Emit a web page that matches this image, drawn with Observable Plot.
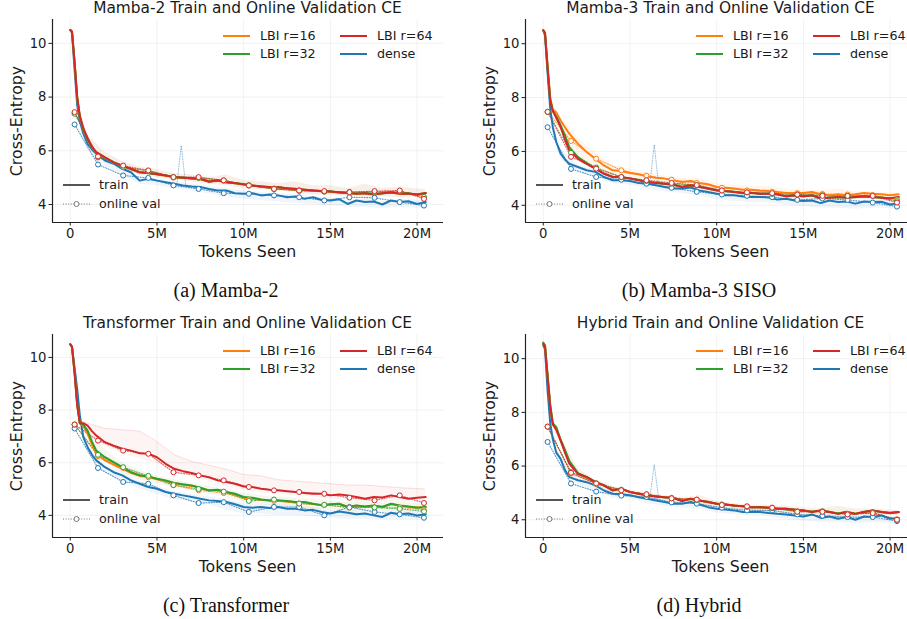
<!DOCTYPE html>
<html><head><meta charset="utf-8">
<script src="https://cdn.jsdelivr.net/npm/d3@7"></script>
<script src="https://cdn.jsdelivr.net/npm/@observablehq/plot@0.6"></script>
<style>
html,body{margin:0;padding:0;background:#fff;overflow:hidden}
#root{position:relative;width:907px;height:619px;overflow:hidden;background:#fff}
#root svg{position:absolute;overflow:visible}
.t{position:absolute;transform:translate(-50%,-50%);white-space:nowrap;font-family:"DejaVu Sans",sans-serif;color:#1a1a1a;line-height:1}
.title{font-size:15.4px}
.xl{font-size:15.8px}
.yl{font-size:15.8px;transform:translate(-50%,-50%) rotate(-90deg)}
.cap{font-family:"Liberation Serif","Times New Roman",serif;font-size:20px;color:#111}
</style></head><body><div id="root"></div>
<script>
// ---------- data ----------
const SERIES = ["dense", "LBI r=16", "LBI r=32", "LBI r=64"];
const COLORS = ["#1f77b4", "#ff7f0e", "#2ca02c", "#d62728"];
const X_TICKS = [0, 5, 10, 15, 20];
const X_TICK_LABELS = ["0", "5M", "10M", "15M", "20M"];
const Y_TICKS = [4, 6, 8, 10];
const X_DOMAIN = [-1.025, 21.525];

const TRAIN_X = [0,0.1,0.25,0.4,0.55,0.75,1,1.25,1.5,2,2.5,3,3.5,4,4.5,5,5.5,6,6.5,7,7.5,8,8.5,9,9.5,10,10.5,11,11.5,12,12.5,13,13.5,14,14.5,15,15.5,16,16.5,17,17.5,18,18.5,19,19.5,20,20.5];
const VAL_X = [0.25,1.6,3.05,4.5,5.95,7.4,8.85,10.3,11.75,13.2,14.65,16.1,17.55,19.0,20.4];
const SPIKE_X = [6.15, 6.4, 6.65];
const BAND_X = [0.6,1,2,3,4,5,6,7,8,9,10,11,12,13,14,15,16,17,18,19,20.5];

// Mamba-2
const a_dense = [10.5,10.4,9.0,7.7,7.1,6.65,6.26,6.05,5.89,5.64,5.52,5.33,5.2,4.89,4.96,4.89,4.83,4.77,4.71,4.67,4.65,4.58,4.52,4.52,4.42,4.4,4.42,4.34,4.37,4.34,4.27,4.3,4.21,4.27,4.17,4.15,4.2,4.02,4.15,4.09,4.11,4.0,4.15,4.09,4.12,4.02,4.09];
const a_r16 = [10.5,10.4,9.25,7.95,7.25,6.8,6.4,6.12,5.93,5.74,5.56,5.44,5.31,5.19,5.18,5.12,5.07,5.03,4.99,4.97,4.94,4.86,4.88,4.82,4.79,4.74,4.72,4.66,4.64,4.63,4.6,4.57,4.56,4.51,4.49,4.47,4.45,4.44,4.41,4.41,4.38,4.43,4.44,4.41,4.4,4.38,4.42];
const a_r32 = [10.5,10.42,9.28,7.98,7.28,6.82,6.42,6.13,5.94,5.75,5.58,5.44,5.32,5.21,5.16,5.13,5.09,5.01,5.01,4.97,4.95,4.86,4.89,4.84,4.79,4.76,4.7,4.68,4.64,4.65,4.6,4.59,4.54,4.53,4.49,4.49,4.45,4.42,4.41,4.43,4.38,4.41,4.45,4.41,4.42,4.36,4.42];
const a_r64 = [10.5,10.45,9.3,8.0,7.3,6.85,6.45,6.15,5.95,5.76,5.57,5.45,5.33,5.2,5.17,5.14,5.08,5.02,5.0,4.98,4.96,4.85,4.9,4.83,4.8,4.75,4.71,4.67,4.65,4.64,4.61,4.58,4.55,4.52,4.5,4.48,4.46,4.43,4.4,4.42,4.37,4.42,4.46,4.4,4.41,4.37,4.43];
const a_val_dense = [6.98,5.49,5.08,4.99,4.71,4.58,4.42,4.4,4.34,4.27,4.15,4.27,4.25,4.09,3.96];
const a_val_r16 = [7.4,5.75,5.42,5.25,5.0,4.98,4.88,4.7,4.6,4.5,4.48,4.45,4.48,4.5,4.25];
const a_val_r32 = [7.38,5.77,5.4,5.25,5.03,5.0,4.9,4.72,4.57,4.53,4.48,4.47,4.46,4.5,4.28];
const a_val_r64 = [7.44,5.79,5.45,5.27,5.02,5.02,4.9,4.71,4.58,4.52,4.5,4.46,4.5,4.52,4.21];
const a_spike = [4.75, 6.2, 4.75];
const a_band_lbi_hi = [7.4,6.6,5.95,5.6,5.4,5.3,5.15,5.1,5.0,5.1,4.9,4.85,4.78,4.85,4.7,4.7,4.6,4.75,4.6,4.65,4.55];
const a_band_lbi_lo = [7.1,6.3,5.6,5.35,5.1,5.0,4.9,4.85,4.75,4.7,4.6,4.55,4.5,4.45,4.35,4.35,4.3,4.25,4.3,4.25,4.3];
const a_band_dense_hi = [7.0,6.3,5.7,5.4,5.0,4.95,4.85,4.75,4.65,4.6,4.5,4.45,4.4,4.35,4.3,4.25,4.15,4.2,4.1,4.2,4.15];
const a_band_dense_lo = [6.8,6.0,5.45,5.1,4.75,4.7,4.6,4.5,4.4,4.3,4.2,4.15,4.1,4.05,4.0,3.95,3.9,3.9,3.85,3.9,3.85];

// Mamba-3 SISO
const b_dense = [10.5,10.3,8.9,7.6,6.9,6.35,5.92,5.7,5.54,5.42,5.3,5.24,5.05,4.93,4.93,4.9,4.83,4.8,4.74,4.68,4.62,4.62,4.66,4.55,4.49,4.43,4.37,4.37,4.33,4.31,4.31,4.29,4.21,4.24,4.18,4.16,4.18,4.08,4.18,4.12,4.14,4.06,4.14,4.12,4.13,4.03,4.08];
const b_r16 = [10.5,10.4,9.2,8.0,7.55,7.45,7.15,6.9,6.66,6.29,5.98,5.73,5.48,5.3,5.27,5.2,5.15,5.07,5.02,4.99,4.93,4.86,4.9,4.83,4.78,4.68,4.65,4.62,4.58,4.58,4.55,4.53,4.49,4.46,4.46,4.46,4.49,4.41,4.37,4.41,4.37,4.41,4.46,4.43,4.41,4.37,4.41];
const b_r32 = [10.5,10.4,9.1,7.9,7.5,7.3,6.97,6.6,6.16,5.79,5.56,5.37,5.18,5.06,5.04,5.0,4.94,4.85,4.84,4.79,4.77,4.69,4.73,4.69,4.61,4.56,4.52,4.5,4.45,4.47,4.42,4.44,4.4,4.34,4.36,4.34,4.36,4.26,4.29,4.3,4.29,4.3,4.34,4.3,4.29,4.26,4.3];
const b_r64 = [10.5,10.4,9.1,7.9,7.5,7.25,6.9,6.45,6.04,5.73,5.54,5.36,5.17,5.05,5.05,4.99,4.93,4.86,4.83,4.8,4.76,4.68,4.74,4.68,4.62,4.55,4.53,4.49,4.46,4.46,4.43,4.43,4.41,4.33,4.37,4.33,4.37,4.25,4.28,4.31,4.28,4.31,4.33,4.31,4.28,4.25,4.31];
const b_val_dense = [6.9,5.35,5.05,4.95,4.8,4.65,4.5,4.4,4.35,4.3,4.2,4.25,4.2,4.1,3.95];
const b_val_r16 = [7.47,6.39,5.73,5.3,5.1,4.95,4.83,4.65,4.55,4.5,4.45,4.42,4.4,4.38,4.2];
const b_val_r32 = [7.47,5.95,5.4,5.05,4.9,4.8,4.75,4.55,4.48,4.42,4.4,4.38,4.35,4.35,4.15];
const b_val_r64 = [7.47,5.8,5.36,5.05,4.93,4.83,4.75,4.55,4.48,4.45,4.4,4.35,4.35,4.35,4.1];
const b_spike = [4.8, 6.25, 4.75];
const b_band_lbi_hi = [7.6,7.3,6.5,5.95,5.5,5.35,5.2,5.1,5.0,5.0,4.8,4.75,4.7,4.7,4.6,4.55,4.55,4.6,4.5,4.5,4.45];
const b_band_lbi_lo = [7.3,6.8,5.7,5.3,5.0,4.9,4.8,4.7,4.6,4.6,4.45,4.4,4.35,4.3,4.2,4.25,4.2,4.2,4.2,4.2,4.2];
const b_band_dense_hi = [7.0,6.1,5.5,5.3,5.0,4.95,4.85,4.75,4.7,4.6,4.5,4.45,4.4,4.35,4.3,4.25,4.15,4.2,4.15,4.2,4.15];
const b_band_dense_lo = [6.7,5.7,5.25,5.05,4.8,4.75,4.6,4.5,4.45,4.35,4.2,4.15,4.1,4.1,4.0,3.95,3.9,3.9,3.85,3.9,3.85];

// Transformer
const c_dense = [10.5,10.4,9.6,8.8,7.8,6.97,6.59,6.3,6.09,5.83,5.64,5.52,5.33,5.2,5.08,5.01,4.89,4.82,4.76,4.7,4.63,4.57,4.55,4.51,4.42,4.32,4.29,4.32,4.28,4.32,4.25,4.25,4.19,4.21,4.13,4.07,4.15,4.1,4.04,4.07,4.0,3.94,4.1,4.04,4.07,4.0,4.04];
const c_r16 = [10.5,10.4,9.4,8.2,7.5,7.4,7.1,6.7,6.34,6.09,5.93,5.77,5.62,5.5,5.46,5.38,5.31,5.22,5.16,5.12,5.04,4.94,4.96,4.88,4.8,4.68,4.64,4.59,4.56,4.57,4.53,4.5,4.5,4.43,4.39,4.41,4.43,4.33,4.37,4.33,4.36,4.33,4.42,4.37,4.33,4.3,4.31];
const c_r32 = [10.5,10.4,9.4,8.2,7.5,7.45,7.22,6.8,6.46,6.21,6.02,5.83,5.64,5.52,5.48,5.39,5.33,5.23,5.18,5.14,5.05,4.95,4.97,4.89,4.82,4.7,4.67,4.6,4.57,4.57,4.55,4.51,4.51,4.44,4.38,4.42,4.44,4.32,4.38,4.34,4.38,4.32,4.44,4.38,4.34,4.29,4.32];
const c_r64 = [10.5,10.4,9.4,8.2,7.5,7.5,7.41,7.2,7.03,6.78,6.65,6.53,6.46,6.36,6.34,6.21,5.96,5.77,5.68,5.61,5.52,5.45,5.33,5.27,5.2,5.1,5.08,5.01,4.97,4.95,4.92,4.89,4.85,4.82,4.82,4.76,4.79,4.76,4.7,4.63,4.7,4.68,4.76,4.7,4.63,4.67,4.7];
const c_val_dense = [7.3,5.8,5.27,5.2,4.76,4.47,4.5,4.13,4.32,4.32,4.0,4.32,4.13,4.04,3.91];
const c_val_r16 = [7.45,6.25,5.8,5.45,5.15,4.95,4.85,4.6,4.55,4.45,4.4,4.3,4.3,4.3,4.2];
const c_val_r32 = [7.45,6.3,5.83,5.5,5.15,5.0,4.9,4.55,4.6,4.45,4.4,4.3,4.3,4.25,4.15];
const c_val_r64 = [7.45,6.84,6.46,6.34,5.64,5.52,5.33,5.08,4.95,4.89,4.82,4.67,4.57,4.76,4.47];
const c_band_r64_hi = [7.6,7.5,7.3,7.25,7.2,6.8,6.3,6.05,5.9,5.75,5.55,5.5,5.35,5.3,5.25,5.2,5.15,5.15,5.1,5.05,5.0];
const c_band_r64_lo = [7.45,7.2,6.6,6.35,6.15,5.95,5.6,5.45,5.3,5.1,4.95,4.85,4.8,4.75,4.7,4.6,4.55,4.5,4.5,4.5,4.5];
const c_band_lbi_hi = [7.6,7.3,6.5,6.0,5.7,5.5,5.35,5.2,5.1,5.0,4.85,4.75,4.7,4.65,4.6,4.55,4.5,4.5,4.45,4.5,4.4];
const c_band_lbi_lo = [7.4,7.0,6.0,5.6,5.35,5.2,5.05,4.95,4.8,4.7,4.5,4.4,4.35,4.3,4.2,4.25,4.15,4.15,4.1,4.15,4.1];
const c_band_dense_hi = [7.5,6.7,5.9,5.6,5.3,5.1,4.9,4.8,4.7,4.6,4.45,4.4,4.4,4.35,4.3,4.2,4.2,4.15,4.05,4.15,4.1];
const c_band_dense_lo = [7.2,6.4,5.6,5.3,5.0,4.8,4.6,4.5,4.4,4.2,4.05,4.05,4.0,4.0,3.95,3.9,3.85,3.85,3.8,3.8,3.8];

// Hybrid
const d_dense = [10.5,10.35,8.8,7.6,7.0,6.5,6.27,5.85,5.59,5.47,5.4,5.28,5.09,4.97,4.95,4.91,4.84,4.78,4.72,4.66,4.6,4.6,4.66,4.57,4.47,4.41,4.38,4.35,4.29,4.29,4.29,4.25,4.22,4.2,4.16,4.12,4.2,4.07,4.12,4.04,4.1,4.0,4.12,4.1,4.16,4.04,4.07];
const d_r16 = [10.55,10.45,9.35,8.25,7.55,7.4,6.97,6.55,6.12,5.72,5.58,5.41,5.27,5.1,5.15,5.04,4.96,4.92,4.86,4.85,4.81,4.71,4.77,4.73,4.65,4.61,4.56,4.54,4.49,4.48,4.46,4.46,4.4,4.42,4.36,4.36,4.3,4.34,4.3,4.23,4.28,4.23,4.28,4.34,4.3,4.24,4.28];
const d_r32 = [10.6,10.5,9.4,8.3,7.6,7.45,6.98,6.6,6.2,5.74,5.6,5.41,5.29,5.1,5.16,5.03,4.98,4.9,4.88,4.83,4.82,4.71,4.78,4.71,4.67,4.6,4.58,4.52,4.51,4.46,4.48,4.44,4.42,4.4,4.38,4.34,4.3,4.35,4.29,4.23,4.3,4.22,4.3,4.35,4.28,4.26,4.29];
const d_r64 = [10.55,10.45,9.3,8.2,7.55,7.35,6.96,6.5,6.09,5.71,5.59,5.4,5.28,5.09,5.16,5.03,4.97,4.91,4.87,4.84,4.82,4.7,4.78,4.72,4.66,4.6,4.57,4.53,4.5,4.47,4.47,4.45,4.41,4.41,4.37,4.35,4.29,4.35,4.29,4.22,4.29,4.22,4.29,4.35,4.29,4.25,4.29];
const d_val_dense = [6.9,5.35,5.05,4.9,4.85,4.65,4.6,4.45,4.35,4.35,4.2,4.15,4.1,4.1,3.95];
const d_val_r16 = [7.47,5.72,5.33,5.1,4.95,4.82,4.75,4.55,4.5,4.45,4.32,4.3,4.22,4.25,4.02];
const d_val_r32 = [7.47,5.78,5.36,5.12,4.93,4.8,4.73,4.57,4.48,4.43,4.3,4.32,4.2,4.27,4.0];
const d_val_r64 = [7.47,5.75,5.35,5.1,4.95,4.8,4.75,4.55,4.5,4.45,4.3,4.3,4.2,4.25,4.0];
const d_spike = [4.85, 6.05, 4.8];
const d_band_lbi_hi = [7.6,7.1,5.9,5.5,5.25,5.1,5.0,4.9,4.8,4.9,4.7,4.6,4.55,4.55,4.5,4.45,4.4,4.5,4.4,4.4,4.35];
const d_band_lbi_lo = [7.4,6.8,5.6,5.3,5.0,4.9,4.8,4.7,4.6,4.55,4.45,4.4,4.35,4.3,4.15,4.2,4.15,4.1,4.1,4.15,4.15];
const d_band_dense_hi = [7.0,6.4,5.55,5.35,5.05,4.95,4.85,4.75,4.65,4.65,4.5,4.45,4.4,4.35,4.3,4.2,4.15,4.15,4.1,4.15,4.1];
const d_band_dense_lo = [6.8,6.1,5.3,5.1,4.8,4.8,4.6,4.5,4.45,4.4,4.25,4.2,4.15,4.1,4.0,3.95,3.9,3.9,3.85,3.9,3.85];

const TITLES = ["Mamba-2 Train and Online Validation CE", "Mamba-3 Train and Online Validation CE", "Transformer Train and Online Validation CE", "Hybrid Train and Online Validation CE"];
const CAPTIONS = ["(a) Mamba-2", "(b) Mamba-3 SISO", "(c) Transformer", "(d) Hybrid"];

// ---------- layout ----------
const W = 453, H = 262, ML = 52, MR = 10, MT = 19, MB = 40;
const FW = W - ML - MR, FH = H - MT - MB;
const BAND_LBI = "#c0602a", BAND_OLIVE = "#7a8a2a";
const PANELS = [
  {left: 0, top: 0, yDomain: [3.33, 10.89], train: [a_dense, a_r16, a_r32, a_r64], val: [a_val_dense, a_val_r16, a_val_r32, a_val_r64], spike: a_spike, capY: 290,
   bands: [{hi: a_band_dense_hi, lo: a_band_dense_lo, c: COLORS[0], o: 0.07}, {hi: a_band_lbi_hi, lo: a_band_lbi_lo, c: BAND_LBI, o: 0.11}]},
  {left: 473, top: 0, yDomain: [3.36, 10.9], train: [b_dense, b_r16, b_r32, b_r64], val: [b_val_dense, b_val_r16, b_val_r32, b_val_r64], spike: b_spike, capY: 290,
   bands: [{hi: b_band_dense_hi, lo: b_band_dense_lo, c: COLORS[0], o: 0.07}, {hi: b_band_lbi_hi, lo: b_band_lbi_lo, c: COLORS[1], o: 0.08}]},
  {left: 0, top: 315, yDomain: [3.16, 10.87], train: [c_dense, c_r16, c_r32, c_r64], val: [c_val_dense, c_val_r16, c_val_r32, c_val_r64], capY: 605,
   bands: [{hi: c_band_dense_hi, lo: c_band_dense_lo, c: COLORS[0], o: 0.07}, {hi: c_band_lbi_hi, lo: c_band_lbi_lo, c: BAND_OLIVE, o: 0.08}, {hi: c_band_r64_hi, lo: c_band_r64_lo, c: COLORS[3], o: 0.05, edge: true}]},
  {left: 473, top: 315, yDomain: [3.34, 10.9], train: [d_dense, d_r16, d_r32, d_r64], val: [d_val_dense, d_val_r16, d_val_r32, d_val_r64], spike: d_spike, capY: 605,
   bands: [{hi: d_band_dense_hi, lo: d_band_dense_lo, c: COLORS[0], o: 0.07}, {hi: d_band_lbi_hi, lo: d_band_lbi_lo, c: BAND_LBI, o: 0.1}]}
];

const root = document.getElementById("root");
function addText(cls, txt, x, y) {
  const d = document.createElement("div");
  d.className = "t " + cls; d.textContent = txt;
  d.style.left = x + "px"; d.style.top = y + "px";
  root.appendChild(d);
}

PANELS.forEach((p, k) => {
  const train = [], val = [];
  SERIES.forEach((s, i) => {
    p.train[i].forEach((v, j) => train.push({x: TRAIN_X[j], y: v, s}));
    p.val[i].forEach((v, j) => val.push({x: VAL_X[j], y: v, s}));
  });
  const marks = [
    Plot.gridX(X_TICKS, {stroke: "#000", strokeOpacity: 0.07, strokeWidth: 0.8}),
    Plot.gridY(Y_TICKS, {stroke: "#000", strokeOpacity: 0.07, strokeWidth: 0.8})
  ];
  (p.bands || []).forEach(b => {
    const rows = BAND_X.map((x, i) => ({x, lo: b.lo[i], hi: b.hi[i]}));
    marks.push(Plot.areaY(rows, {x: "x", y1: "lo", y2: "hi", fill: b.c, fillOpacity: b.o}));
    if (b.edge) marks.push(Plot.line(rows, {x: "x", y: "hi", stroke: b.c, strokeOpacity: 0.25, strokeWidth: 0.7, strokeDasharray: "1,1.5"}));
  });
  if (p.spike) {
    marks.push(Plot.line(SPIKE_X.map((x, i) => ({x, y: p.spike[i]})), {x: "x", y: "y", stroke: COLORS[0], strokeOpacity: 0.45, strokeWidth: 1, strokeDasharray: "1,1.5"}));
  }
  marks.push(
    Plot.line(val, {x: "x", y: "y", z: "s", stroke: "s", strokeWidth: 1.1, strokeOpacity: 0.75, strokeDasharray: "1,1.6"}),
    Plot.line(train, {x: "x", y: "y", z: "s", stroke: "s", strokeWidth: 2}),
    Plot.dot(val, {x: "x", y: "y", stroke: "s", fill: "white", r: 2.5, strokeWidth: 1}),
    Plot.ruleX([X_DOMAIN[0]], {stroke: "#222", strokeWidth: 1.2}),
    Plot.ruleY([p.yDomain[0]], {stroke: "#222", strokeWidth: 1.2}),
    Plot.axisX(X_TICKS, {tickFormat: (d) => X_TICK_LABELS[X_TICKS.indexOf(d)], tickSize: 3.5, tickPadding: 2.5, fontSize: 13.2, label: null, stroke: "#222"}),
    Plot.axisY(Y_TICKS, {tickSize: 3.5, tickPadding: 2.5, fontSize: 13.2, label: null, stroke: "#222"})
  );
  const svg = Plot.plot({
    width: W, height: H, marginLeft: ML, marginRight: MR, marginTop: MT, marginBottom: MB,
    x: {domain: X_DOMAIN}, y: {domain: p.yDomain},
    color: {domain: SERIES, range: COLORS},
    style: {fontFamily: "DejaVu Sans, sans-serif", fontSize: "13.2px", color: "#1a1a1a", background: "transparent"},
    marks
  });
  svg.style.left = p.left + "px"; svg.style.top = p.top + "px";
  root.appendChild(svg);

  // legends
  const g = d3.select(svg).append("g").attr("font-family", "DejaVu Sans, sans-serif").attr("font-size", 12.7).attr("fill", "#1a1a1a").attr("text-anchor", "start");
  const L = ML, T = MT, B = MT + FH;
  const entries = [[1, 0, 0], [2, 0, 1], [3, 1, 0], [0, 1, 1]];
  entries.forEach(([si, col, row]) => {
    const x0 = L + (col ? 288 : 171), y0 = T + (row ? 35 : 17);
    g.append("line").attr("x1", x0).attr("x2", x0 + 27).attr("y1", y0).attr("y2", y0).attr("stroke", COLORS[si]).attr("stroke-width", 2);
    g.append("text").attr("x", x0 + 37).attr("y", y0).attr("dy", "0.35em").attr("text-anchor", "start").text(SERIES[si]);
  });
  const ty = B - 37, vy = B - 18;
  g.append("line").attr("x1", L + 11).attr("x2", L + 38).attr("y1", ty).attr("y2", ty).attr("stroke", "#555").attr("stroke-width", 2);
  g.append("text").attr("x", L + 47).attr("y", ty).attr("dy", "0.35em").attr("text-anchor", "start").text("train");
  g.append("line").attr("x1", L + 11).attr("x2", L + 38).attr("y1", vy).attr("y2", vy).attr("stroke", "#777").attr("stroke-width", 1).attr("stroke-dasharray", "1,1.6");
  g.append("circle").attr("cx", L + 24.5).attr("cy", vy).attr("r", 2.5).attr("fill", "white").attr("stroke", "#777");
  g.append("text").attr("x", L + 47).attr("y", vy).attr("dy", "0.35em").attr("text-anchor", "start").text("online val");

  // titles and labels
  const cx = p.left + ML + FW / 2;
  addText("title", TITLES[k], cx, p.top + 9);
  addText("xl", "Tokens Seen", cx, p.top + B + 30);
  addText("yl", "Cross-Entropy", p.left + ML - 35, p.top + MT + FH / 2);
  addText("cap", CAPTIONS[k], p.left + 226, p.capY);
});
</script></body></html>
